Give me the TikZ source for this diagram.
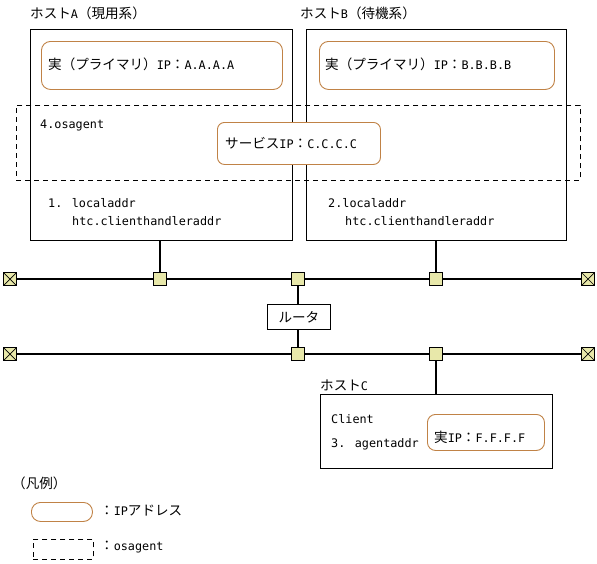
\documentclass[tikz,border=0pt]{standalone}
\usepackage{fontspec}
\setmainfont{DejaVu Sans Mono}
\newfontfamily\jp[Scale=1.15]{Noto Sans CJK JP}
\definecolor{ipor}{RGB}{192,130,70}
\definecolor{hubfill}{RGB}{232,232,170}
\begin{document}
\begin{tikzpicture}[x=1pt,y=-1pt,
  font=\fontsize{11.8}{14}\selectfont,
  hostbox/.style={draw=black,line width=0.9pt,anchor=north west,inner sep=0},
  ipbox/.style={draw=ipor,line width=0.9pt,rounded corners=9pt,anchor=north west,inner sep=0,fill=white},
  agentbox/.style={draw=black,line width=0.9pt,dash pattern=on 5pt off 4pt,anchor=north west,inner sep=0},
  txt/.style={anchor=west,inner sep=0},
  hub/.style={draw=black,line width=0.9pt,fill=hubfill,minimum size=13pt,inner sep=0},
  term/.style={hub,path picture={\draw[line width=0.7pt] (path picture bounding box.north west) -- (path picture bounding box.south east) (path picture bounding box.north east) -- (path picture bounding box.south west);}},
  net/.style={line width=1.1pt},
  routerbox/.style={draw=black,line width=0.9pt,anchor=north west,inner sep=0}]
\useasboundingbox (0,0) rectangle (597,563);

% hosts
\node[hostbox,minimum width=262pt,minimum height=211pt] (hostA) at (30,29) {};
\node[hostbox,minimum width=260pt,minimum height=211pt] (hostB) at (306,29) {};
\node[txt] (labA) at (30,13) {{\jp ホスト}A{\jp （現用系）}};
\node[txt] (labB) at (300,13) {{\jp ホスト}B{\jp （待機系）}};

\node[ipbox,minimum width=241pt,minimum height=48pt] (ipA) at (41,41) {};
\node[txt] (ipAt) at (48,64) {{\jp 実（プライマリ）}IP{\jp ：}A.A.A.A};
\node[ipbox,minimum width=235pt,minimum height=48pt] (ipB) at (319,41) {};
\node[txt] (ipBt) at (325,64) {{\jp 実（プライマリ）}IP{\jp ：}B.B.B.B};

% osagent area
\node[agentbox,minimum width=564pt,minimum height=75pt] (agent) at (16,105) {};
\node[txt] (agt) at (40,125) {4.osagent};
\node[ipbox,rounded corners=7pt,minimum width=163pt,minimum height=42pt] (svc) at (217,122) {};
\node[txt] (svct) at (225,143) {{\jp サービス}IP{\jp ：}C.C.C.C};

\node[txt] (la1) at (48,203) {1. localaddr};
\node[txt] (la2) at (72,221) {htc.clienthandleraddr};
\node[txt] (lb1) at (328,203) {2.localaddr};
\node[txt] (lb2) at (345,221) {htc.clienthandleraddr};

% network 1
\node[term] (e1L) at (10,279) {};
\node[hub] (s1A) at (160,279) {};
\node[hub] (s1R) at (298,279) {};
\node[hub] (s1B) at (436,279) {};
\node[term] (e1R) at (588,279) {};
\draw[net] (e1L) -- (s1A) -- (s1R) -- (s1B) -- (e1R);
\draw[net] (s1A) -- (s1A |- hostA.south);
\draw[net] (s1B) -- (s1B |- hostB.south);

% router
\node[routerbox,minimum width=63pt,minimum height=25pt] (router) at (267,304) {};
\node (routert) at (router.center) {\jp ルータ};

% network 2
\node[term] (e2L) at (10,354) {};
\node[hub] (s2R) at (298,354) {};
\node[hub] (s2B) at (436,354) {};
\node[term] (e2R) at (588,354) {};
\draw[net] (e2L) -- (s2R) -- (s2B) -- (e2R);
\draw[net] (s1R) -- (s1R |- router.north);
\draw[net] (s2R) -- (s2R |- router.south);

% host C
\node[hostbox,minimum width=232pt,minimum height=74pt] (hostC) at (320,394) {};
\node[txt] (labC) at (320,385) {{\jp ホスト}C};
\draw[net] (s2B) -- (s2B |- hostC.north);
\node[txt] (cl) at (331,419) {Client};
\node[txt] (ca) at (331,444) {3. agentaddr};
\node[ipbox,rounded corners=8pt,minimum width=117pt,minimum height=36pt] (ipF) at (427,414) {};
\node[txt] (ipFt) at (434,437) {{\jp 実}IP{\jp ：}F.F.F.F};

% legend
\node[txt] (leg) at (12,483) {\jp （凡例）};
\node[ipbox,minimum width=61pt,minimum height=19pt] (legip) at (31,502) {};
\node[txt] (legipt) at (100,511) {{\jp ：}IP{\jp アドレス}};
\node[agentbox,minimum width=60pt,minimum height=20pt] (legag) at (33,539) {};
\node[txt] (legagt) at (100,547) {{\jp ：}osagent};
\end{tikzpicture}
\end{document}
